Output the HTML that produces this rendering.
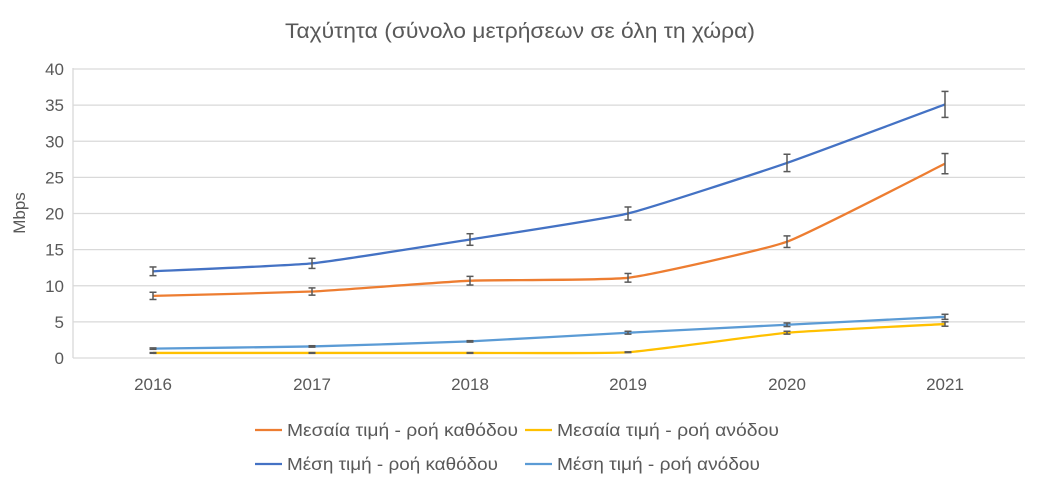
<!DOCTYPE html>
<html><head><meta charset="utf-8"><style>
body{margin:0;background:#fff;}
svg text{font-family:"Liberation Sans","DejaVu Sans",sans-serif;fill:#595959;}
</style></head><body>
<svg id="s" width="1049" height="499" xmlns="http://www.w3.org/2000/svg">
<rect width="1049" height="499" fill="#fff"/>
<text x="285" y="38" font-size="21" textLength="470" lengthAdjust="spacingAndGlyphs">Ταχύτητα (σύνολο μετρήσεων σε όλη τη χώρα)</text>
<g id="grid" stroke="#d9d9d9" stroke-width="1.3"></g>
<line x1="73" y1="68" x2="73" y2="358" stroke="#d9d9d9" stroke-width="1.3"/>
<g id="yl" font-size="17" text-anchor="end"></g>
<g id="xl" font-size="17" text-anchor="middle"></g>
<text transform="translate(25,213) rotate(-90)" font-size="17" text-anchor="middle">Mbps</text>
<g id="series" fill="none" stroke-width="2.3"></g>
<g id="err" stroke="#595959" stroke-width="1.5"></g>
<g font-size="17.5">
<line x1="255" y1="430" x2="282" y2="430" stroke="#ED7D31" stroke-width="2.3"/>
<text x="287" y="436" textLength="231" lengthAdjust="spacingAndGlyphs">Μεσαία τιμή - ροή καθόδου</text>
<line x1="525" y1="430" x2="552" y2="430" stroke="#FFC000" stroke-width="2.3"/>
<text x="557" y="436" textLength="222" lengthAdjust="spacingAndGlyphs">Μεσαία τιμή - ροή ανόδου</text>
<line x1="255" y1="464" x2="282" y2="464" stroke="#4472C4" stroke-width="2.3"/>
<text x="287" y="470" textLength="211" lengthAdjust="spacingAndGlyphs">Μέση τιμή - ροή καθόδου</text>
<line x1="525" y1="464" x2="552" y2="464" stroke="#5B9BD5" stroke-width="2.3"/>
<text x="557" y="470" textLength="203" lengthAdjust="spacingAndGlyphs">Μέση τιμή - ροή ανόδου</text>
</g>
</svg>
<script>
var NS="http://www.w3.org/2000/svg";
function el(p,t,a,txt){var e=document.createElementNS(NS,t);for(var k in a)e.setAttribute(k,a[k]);if(txt)e.textContent=txt;document.getElementById(p).appendChild(e);return e;}
function Y(v){return 358-v*7.225;}
var xs=[153,312,470,628,787,945];
for(var v=0;v<=40;v+=5){el("grid","line",{x1:73,x2:1025,y1:Y(v),y2:Y(v)});el("yl","text",{x:64,y:Y(v)+6},String(v));}
for(var i=0;i<6;i++)el("xl","text",{x:xs[i],y:390},String(2016+i));
var S=[
["#5B9BD5",[1.3,1.6,2.3,3.5,4.6,5.7],[0.1,0.1,0.1,0.2,0.25,0.35]],
["#FFC000",[0.7,0.7,0.7,0.8,3.5,4.7],[0.05,0.05,0.05,0.05,0.2,0.3]],
["#ED7D31",[8.6,9.2,10.7,11.1,16.1,26.9],[0.5,0.5,0.6,0.6,0.8,1.4]],
["#4472C4",[12,13.1,16.4,20,27,35.1],[0.6,0.7,0.8,0.9,1.2,1.8]]];
S.forEach(function(s){
 var p=xs.map(function(x,i){return [x,Y(s[1][i])];});
 var d="M"+p[0][0]+","+p[0][1];
 for(var i=0;i<p.length-1;i++){
  var p0=p[Math.max(i-1,0)],p1=p[i],p2=p[i+1],p3=p[Math.min(i+2,p.length-1)],t=0.07;
  var c1=[p1[0]+(p2[0]-p0[0])*t,p1[1]+(p2[1]-p0[1])*t],c2=[p2[0]-(p3[0]-p1[0])*t,p2[1]-(p3[1]-p1[1])*t];
  d+=" C"+c1+" "+c2+" "+p2;
 }
 el("series","path",{d:d,stroke:s[0]});
 p.forEach(function(q,i){var e=s[2][i]*7.225;
  el("err","line",{x1:q[0],x2:q[0],y1:q[1]-e,y2:q[1]+e});
  el("err","line",{x1:q[0]-3.5,x2:q[0]+3.5,y1:q[1]-e,y2:q[1]-e});
  el("err","line",{x1:q[0]-3.5,x2:q[0]+3.5,y1:q[1]+e,y2:q[1]+e});});
});
</script>
</body></html>
